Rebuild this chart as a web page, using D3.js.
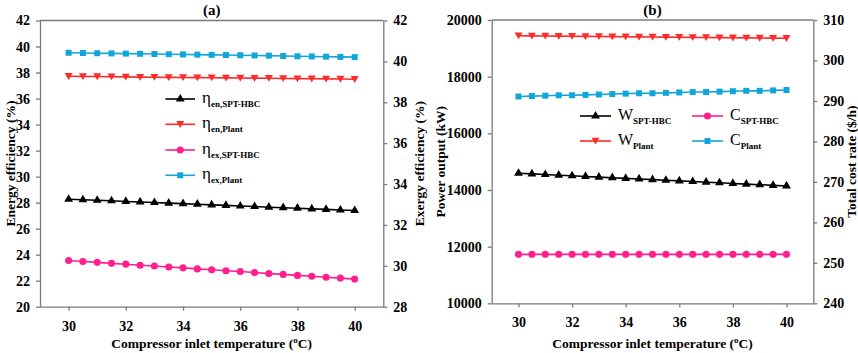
<!DOCTYPE html>
<html><head><meta charset="utf-8">
<script src="https://cdn.jsdelivr.net/npm/d3@7"></script>
<style>
body{margin:0;background:#fff;}
svg{display:block;font-family:"Liberation Serif","Times New Roman",serif;font-weight:bold;}
</style></head>
<body><svg id="c" width="858" height="353"></svg>
<script>
// ---- data ----
const temps = [30,30.5,31,31.5,32,32.5,33,33.5,34,34.5,35,35.5,36,36.5,37,37.5,38,38.5,39,39.5,40];
const xTicks = [30,32,34,36,38,40];
// panel (a)
const etaEnSPT = [28.26,28.22,28.18,28.14,28.09,28.05,28.01,27.96,27.92,27.88,27.83,27.79,27.74,27.70,27.65,27.61,27.57,27.52,27.48,27.43,27.39];
const etaEnPlant = [37.71,37.70,37.69,37.68,37.67,37.65,37.64,37.63,37.62,37.61,37.60,37.59,37.58,37.57,37.56,37.54,37.53,37.52,37.51,37.50,37.48];
const etaExSPT = [30.26,30.21,30.17,30.12,30.08,30.03,29.99,29.94,29.90,29.85,29.81,29.76,29.72,29.67,29.62,29.58,29.53,29.49,29.44,29.40,29.35];
const etaExPlant = [40.42,40.41,40.40,40.39,40.38,40.37,40.36,40.35,40.34,40.33,40.32,40.31,40.30,40.29,40.28,40.26,40.25,40.24,40.23,40.22,40.21];
const aLeftTicks = [20,22,24,26,28,30,32,34,36,38,40,42];
const aRightTicks = [28,30,32,34,36,38,40,42];
// panel (b)
const wSPT = [14590,14567,14545,14522,14500,14478,14455,14433,14410,14388,14365,14343,14320,14298,14275,14253,14231,14208,14186,14163,14141];
const wPlant = [19446,19441,19437,19432,19428,19423,19418,19414,19409,19405,19400,19395,19391,19386,19382,19377,19372,19368,19363,19359,19354];
const cSPT = [252.1,252.1,252.1,252.1,252.1,252.1,252.1,252.1,252.1,252.1,252.1,252.1,252.1,252.1,252.1,252.1,252.1,252.1,252.1,252.1,252.1];
const cPlant = [291.1,291.2,291.3,291.4,291.4,291.5,291.6,291.7,291.8,291.9,291.9,292.0,292.1,292.2,292.2,292.3,292.4,292.5,292.5,292.6,292.7];
const bLeftTicks = [10000,12000,14000,16000,18000,20000];
const bRightTicks = [240,250,260,270,280,290,300,310];

const BLACK="#000000", RED="#ff2a2a", PINK="#ff1f8f", CYAN="#12a5dc", AX="#7a7a7a";
const svg = d3.select("#c");

function markerPath(type){
  if(type==="tri") return d3.symbol(d3.symbolTriangle, 34)();
  if(type==="tri2") return "M-4,-3.2L4,-3.2L0,3.6Z";
  if(type==="circ") return d3.symbol(d3.symbolCircle, 40)();
  if(type==="sq") return d3.symbol(d3.symbolSquare, 36)();
}

function panel(cfg){
  const g = svg.append("g");
  const x = d3.scaleLinear().domain([29,41]).range([cfg.x0,cfg.x1]);
  const yL = d3.scaleLinear().domain(cfg.lDom).range([cfg.y1,cfg.y0]);
  const yR = d3.scaleLinear().domain(cfg.rDom).range([cfg.y1,cfg.y0]);
  // frame
  g.append("line").attr("x1",cfg.x0).attr("x2",cfg.x1).attr("y1",cfg.y0).attr("y2",cfg.y0).attr("stroke",AX).attr("stroke-width",1.3);
  const axX = g.append("g").attr("transform",`translate(0,${cfg.y1})`)
     .call(d3.axisBottom(x).tickValues(xTicks).tickSize(4).tickPadding(10).tickSizeOuter(0));
  const axL = g.append("g").attr("transform",`translate(${cfg.x0},0)`)
     .call(d3.axisLeft(yL).tickValues(cfg.lTicks).tickSize(4).tickPadding(6).tickSizeOuter(0).tickFormat(d3.format("d")));
  const axR = g.append("g").attr("transform",`translate(${cfg.x1},0)`)
     .call(d3.axisRight(yR).tickValues(cfg.rTicks).tickSize(4).tickPadding(6).tickSizeOuter(0).tickFormat(d3.format("d")));
  [axX,axL,axR].forEach(a=>{
    a.select(".domain").attr("stroke",AX).attr("stroke-width",1.3);
    a.selectAll(".tick line").attr("stroke",AX).attr("stroke-width",1.3);
    a.selectAll("text").attr("fill","#000").style("font-family",'"Liberation Serif",serif').style("font-weight","bold").style("font-size","14px");
  });
  // series
  cfg.series.forEach(s=>{
    const y = s.axis==="L"?yL:yR;
    const line = d3.line().x((d,i)=>x(temps[i])).y(d=>y(d));
    g.append("path").datum(s.vals).attr("d",line).attr("fill","none").attr("stroke",s.color).attr("stroke-width",1.6);
    g.selectAll(null).data(s.vals).enter().append("path")
      .attr("d",markerPath(s.m)).attr("fill",s.color)
      .attr("transform",(d,i)=>`translate(${x(temps[i])},${y(d)})`);
  });
  // title
  g.append("text").attr("x",(cfg.x0+cfg.x1)/2).attr("y",15).attr("text-anchor","middle").style("font-size","15px").text(cfg.title);
  // x title
  const xt = g.append("text").attr("x",(cfg.x0+cfg.x1)/2).attr("y",348).attr("text-anchor","middle").style("font-size","13.5px");
  xt.append("tspan").text("Compressor inlet temperature (");
  xt.append("tspan").attr("dy",-5).style("font-size","9px").text("o");
  xt.append("tspan").attr("dy",5).text("C)");
  // y titles
  const cy = (cfg.y0+cfg.y1)/2;
  g.append("text").attr("transform",`translate(${cfg.ltx},${cy}) rotate(-90)`).attr("text-anchor","middle").attr("dy","0.35em").style("font-size","13.5px").text(cfg.lTitle);
  g.append("text").attr("transform",`translate(${cfg.rtx},${cy}) rotate(-90)`).attr("text-anchor","middle").attr("dy","0.35em").style("font-size","13.5px").text(cfg.rTitle);
  // legend
  cfg.legend.forEach(L=>{
    const s = cfg.series[L.i];
    g.append("line").attr("x1",L.x).attr("x2",L.x+L.w).attr("y1",L.y).attr("y2",L.y).attr("stroke",s.color).attr("stroke-width",1.6);
    g.append("path").attr("d",markerPath(s.m)).attr("fill",s.color).attr("transform",`translate(${L.x+L.w/2},${L.y})`);
    const t = g.append("text").attr("x",L.x+L.w+L.gap).attr("y",L.y+4);
    t.append("tspan").style("font-size",L.bigSize).style("font-weight",L.bigWeight).text(L.big);
    t.append("tspan").attr("dy",4).style("font-size","9px").text(L.sub);
  });
}

panel({
  x0:40, x1:383.3, y0:20.5, y1:306.7, lDom:[20,42], rDom:[28,42],
  lTicks:aLeftTicks, rTicks:aRightTicks, title:"(a)",
  lTitle:"Energy efficiency (%)", rTitle:"Exergy efficiency (%)", ltx:10, rtx:419,
  series:[
    {vals:etaEnSPT, axis:"L", color:BLACK, m:"tri"},
    {vals:etaEnPlant, axis:"L", color:RED, m:"tri2"},
    {vals:etaExSPT, axis:"R", color:PINK, m:"circ"},
    {vals:etaExPlant, axis:"R", color:CYAN, m:"sq"}
  ],
  legend:[
    {i:0,x:165.5,y:99,w:29.5,gap:7,big:"η",sub:"en,SPT-HBC",bigSize:"17px",bigWeight:"normal"},
    {i:1,x:165.5,y:124.3,w:29.5,gap:7,big:"η",sub:"en,Plant",bigSize:"17px",bigWeight:"normal"},
    {i:2,x:165.5,y:150,w:29.5,gap:7,big:"η",sub:"ex,SPT-HBC",bigSize:"17px",bigWeight:"normal"},
    {i:3,x:165.5,y:175.3,w:29.5,gap:7,big:"η",sub:"ex,Plant",bigSize:"17px",bigWeight:"normal"}
  ]
});

panel({
  x0:491.7, x1:813.3, y0:20, y1:303.3, lDom:[10000,20000], rDom:[240,310],
  lTicks:bLeftTicks, rTicks:bRightTicks, title:"(b)",
  lTitle:"Power output (kW)", rTitle:"Total cost rate ($/h)", ltx:440, rtx:851,
  series:[
    {vals:wSPT, axis:"L", color:BLACK, m:"tri"},
    {vals:wPlant, axis:"L", color:RED, m:"tri2"},
    {vals:cSPT, axis:"R", color:PINK, m:"circ"},
    {vals:cPlant, axis:"R", color:CYAN, m:"sq"}
  ],
  legend:[
    {i:0,x:580,y:116,w:31,gap:7,big:"W",sub:"SPT-HBC",bigSize:"16px",bigWeight:"normal"},
    {i:1,x:580,y:141,w:31,gap:7,big:"W",sub:"Plant",bigSize:"16px",bigWeight:"normal"},
    {i:2,x:692,y:116,w:31,gap:7,big:"C",sub:"SPT-HBC",bigSize:"16px",bigWeight:"normal"},
    {i:3,x:692,y:141,w:31,gap:7,big:"C",sub:"Plant",bigSize:"16px",bigWeight:"normal"}
  ]
});
</script></body></html>
